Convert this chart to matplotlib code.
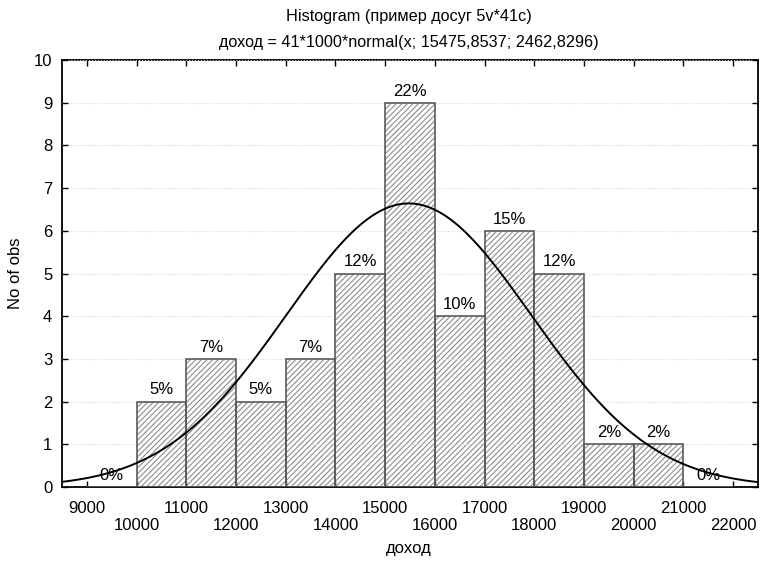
import numpy as np
import matplotlib
matplotlib.use("Agg")
import matplotlib.pyplot as plt

plt.rcParams['font.family'] = ['Liberation Sans', 'DejaVu Sans']
plt.rcParams['hatch.linewidth'] = 0.8

# Histogram data: lower bin boundaries and observation counts
bin_left = [9000, 10000, 11000, 12000, 13000, 14000, 15000,
            16000, 17000, 18000, 19000, 20000, 21000]
counts = [0, 2, 3, 2, 3, 5, 9, 4, 6, 5, 1, 1, 0]
bin_width = 1000
n_total = 41

# Fitted normal distribution parameters
mu = 15475.8537
sigma = 2462.8296

x_ticks = list(range(9000, 22001, 1000))
y_ticks = list(range(0, 11))

title_1 = "Histogram (пример досуг 5v*41c)"
title_2 = "доход = 41*1000*normal(x; 15475,8537; 2462,8296)"

W, H = 760, 566
FS = 12
fig = plt.figure(figsize=(W / 100, H / 100), dpi=100)
ax = fig.add_axes([62 / W, 1 - 487 / H, (758 - 62) / W, (487 - 60) / H])

# hatched fill
ax.bar(bin_left, counts, width=bin_width, align='edge', color='white',
       edgecolor='#8c8c8c', hatch='//////', linewidth=0, zorder=2)
# bar outlines
ax.bar(bin_left, counts, width=bin_width, align='edge', fill=False,
       edgecolor='#5a5a5a', linewidth=1.2, zorder=3)

# normal curve scaled to counts
xs = np.linspace(8500, 22500, 500)
ys = n_total * bin_width * np.exp(-0.5 * ((xs - mu) / sigma) ** 2) / (sigma * np.sqrt(2 * np.pi))
ax.plot(xs, ys, color='black', linewidth=1.4, zorder=5)

# percentage labels
for left, c in zip(bin_left, counts):
    pct = int(round(100 * c / n_total))
    ax.annotate(f"{pct}%", (left + bin_width / 2, c), xytext=(0, 3),
                textcoords='offset points', ha='center', va='bottom',
                fontsize=FS, zorder=6)

ax.set_xlim(8500, 22500)
ax.set_ylim(0, 10)
ax.set_xticks(x_ticks)
ax.set_xticklabels([str(v) if i % 2 == 0 else "\n" + str(v)
                    for i, v in enumerate(x_ticks)])
ax.set_yticks(y_ticks)
ax.tick_params(direction='in', top=True, right=True, length=4, width=1,
               labelsize=FS)
ax.tick_params(axis='x', pad=10)
ax.tick_params(axis='y', pad=7)

ax.yaxis.grid(True, linestyle=':', color='#d6d6d6', linewidth=0.8, zorder=4)
ax.set_axisbelow(False)
for s in ax.spines.values():
    s.set_linewidth(1.3)

fig.text(15 / W, 1 - 273 / H, "No of obs", rotation=90, ha='center',
         va='center', fontsize=FS)
fig.text(409 / W, 1 - 548 / H, "доход", ha='center', va='center', fontsize=FS)
fig.text(409 / W, 1 - 17 / H, title_1, ha='center', va='center', fontsize=11.7)
fig.text(409 / W, 1 - 42 / H, title_2, ha='center', va='center', fontsize=11.7)

fig.savefig("out.png", dpi=100)
